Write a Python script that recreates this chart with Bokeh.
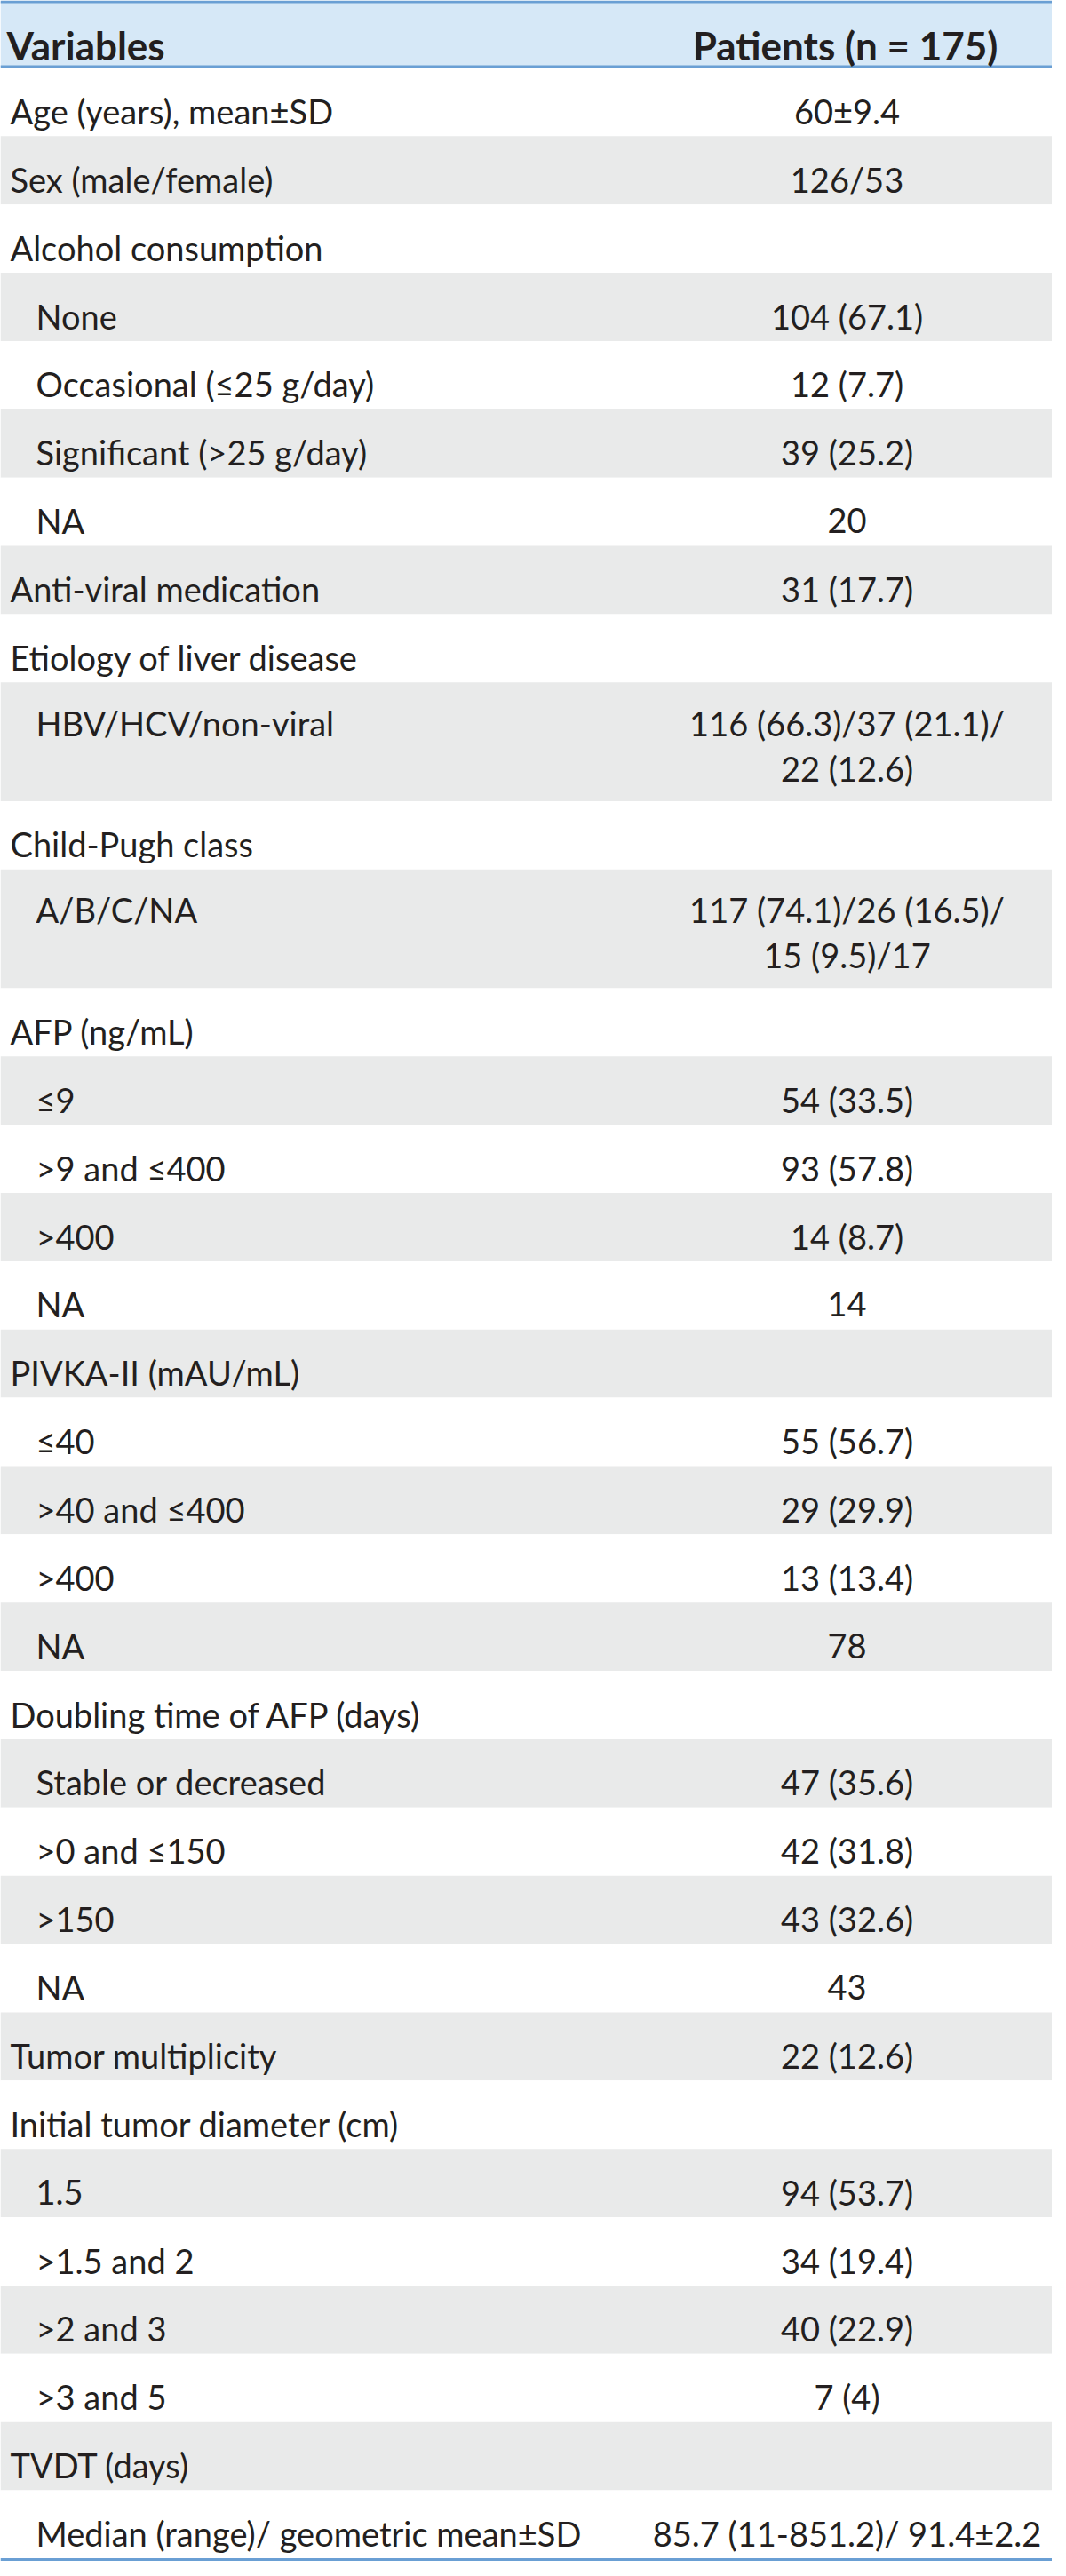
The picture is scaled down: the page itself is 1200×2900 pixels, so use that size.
from bokeh.plotting import figure
from bokeh.models import Range1d, ColumnDataSource
from bokeh.core.properties import value
from bokeh.embed import file_html
from bokeh.resources import INLINE

# ---------------- data ----------------
header_left = "Variables"
header_right = "Patients (n = 175)"

labels = [
    "Age (years), mean±SD", "Sex (male/female)", "Alcohol consumption",
    "None", "Occasional (≤25 g/day)", "Significant (>25 g/day)", "NA",
    "Anti-viral medication", "Etiology of liver disease", "HBV/HCV/non-viral",
    "Child-Pugh class", "A/B/C/NA", "AFP (ng/mL)", "≤9", ">9 and ≤400",
    ">400", "NA", "PIVKA-II (mAU/mL)", "≤40", ">40 and ≤400", ">400", "NA",
    "Doubling time of AFP (days)", "Stable or decreased", ">0 and ≤150",
    ">150", "NA", "Tumor multiplicity", "Initial tumor diameter (cm)", "1.5",
    ">1.5 and 2", ">2 and 3", ">3 and 5", "TVDT (days)",
    "Median (range)/ geometric mean±SD",
]

indent = [0, 0, 0, 1, 1, 1, 1, 0, 0, 1, 0, 1, 0, 1, 1, 1, 1, 0, 1, 1, 1, 1,
          0, 1, 1, 1, 1, 0, 0, 1, 1, 1, 1, 0, 1]

values = [
    "60±9.4", "126/53", "", "104 (67.1)", "12 (7.7)", "39 (25.2)", "20",
    "31 (17.7)", "", "116 (66.3)/37 (21.1)/\n22 (12.6)", "",
    "117 (74.1)/26 (16.5)/\n15 (9.5)/17", "", "54 (33.5)", "93 (57.8)",
    "14 (8.7)", "14", "", "55 (56.7)", "29 (29.9)", "13 (13.4)", "78", "",
    "47 (35.6)", "42 (31.8)", "43 (32.6)", "43", "22 (12.6)", "",
    "94 (53.7)", "34 (19.4)", "40 (22.9)", "7 (4)", "",
    "85.7 (11-851.2)/ 91.4±2.2",
]

# ---------------- layout ----------------
X0, X1 = 8, 1192
TOP_LINE, HEAD_BOTTOM = 9.5, 82.5
BODY_TOP = 84.0
H1, H2 = 76.87, 133.6
VAL_X = 961
LAB_X, IND_X = 19, 48

FONT = "Lato"
BODY_SIZE = "38px"
HEAD_SIZE = "44px"
TEXT_COLOR = "#231F20"
LINE_COLOR = "#6A9FD4"
HEAD_FILL = "#D6E8F7"
GRAY_FILL = "#E9EAEA"

p = figure(width=X1 - X0, height=2884, x_range=Range1d(X0, X1),
           y_range=Range1d(2892, 8), output_backend="svg",
           toolbar_location=None, min_border=0)
p.axis.visible = False
p.grid.visible = False
p.outline_line_color = None
p.background_fill_color = "white"
p.border_fill_color = "white"

# header
p.quad(left=[X0], right=[X1], top=[TOP_LINE], bottom=[HEAD_BOTTOM],
       fill_color=HEAD_FILL, line_color=None)

tops, bottoms, fills = [], [], []
lab_x, lab_y, lab_t = [], [], []
val_y, val_t = [], []
y = BODY_TOP
for i, (lab, val, ind) in enumerate(zip(labels, values, indent)):
    lines = val.split("\n") if val else []
    h = H2 if len(lines) > 1 else H1
    tops.append(y)
    bottoms.append(y + h)
    fills.append(GRAY_FILL if i % 2 == 1 else "white")
    base = y + (45.5 if len(lines) > 1 else 48.5)
    lab_x.append(IND_X if ind else LAB_X)
    lab_y.append(base)
    lab_t.append(lab)
    for k, ln in enumerate(lines):
        val_y.append(base + 51 * k)
        val_t.append(ln)
    y += h
BODY_BOTTOM = y

src = ColumnDataSource(dict(top=tops, bottom=bottoms, fill=fills))
p.quad(left=X0, right=X1, top="top", bottom="bottom", fill_color="fill",
       line_color=None, source=src)

# rules
for yy in (TOP_LINE, HEAD_BOTTOM, BODY_BOTTOM + 1):
    p.segment(x0=[X0], x1=[X1], y0=[yy], y1=[yy], line_color=LINE_COLOR,
              line_width=3)

# header text
p.text(x=[15], y=[58], text=[header_left], text_font=value(FONT),
       text_font_size=HEAD_SIZE, text_font_style="bold",
       text_color=TEXT_COLOR, text_align="left", text_baseline="alphabetic")
p.text(x=[VAL_X - 2], y=[58], text=[header_right], text_font=value(FONT),
       text_font_size=HEAD_SIZE, text_font_style="bold",
       text_color=TEXT_COLOR, text_align="center", text_baseline="alphabetic")

# body text
p.text(x=lab_x, y=lab_y, text=lab_t, text_font=value(FONT),
       text_font_size=BODY_SIZE, text_color=TEXT_COLOR, text_align="left",
       text_baseline="alphabetic")
p.text(x=[VAL_X] * len(val_t), y=val_y, text=val_t, text_font=value(FONT),
       text_font_size=BODY_SIZE, text_color=TEXT_COLOR, text_align="center",
       text_baseline="alphabetic")

open("out.html", "w").write(file_html(p, INLINE))
